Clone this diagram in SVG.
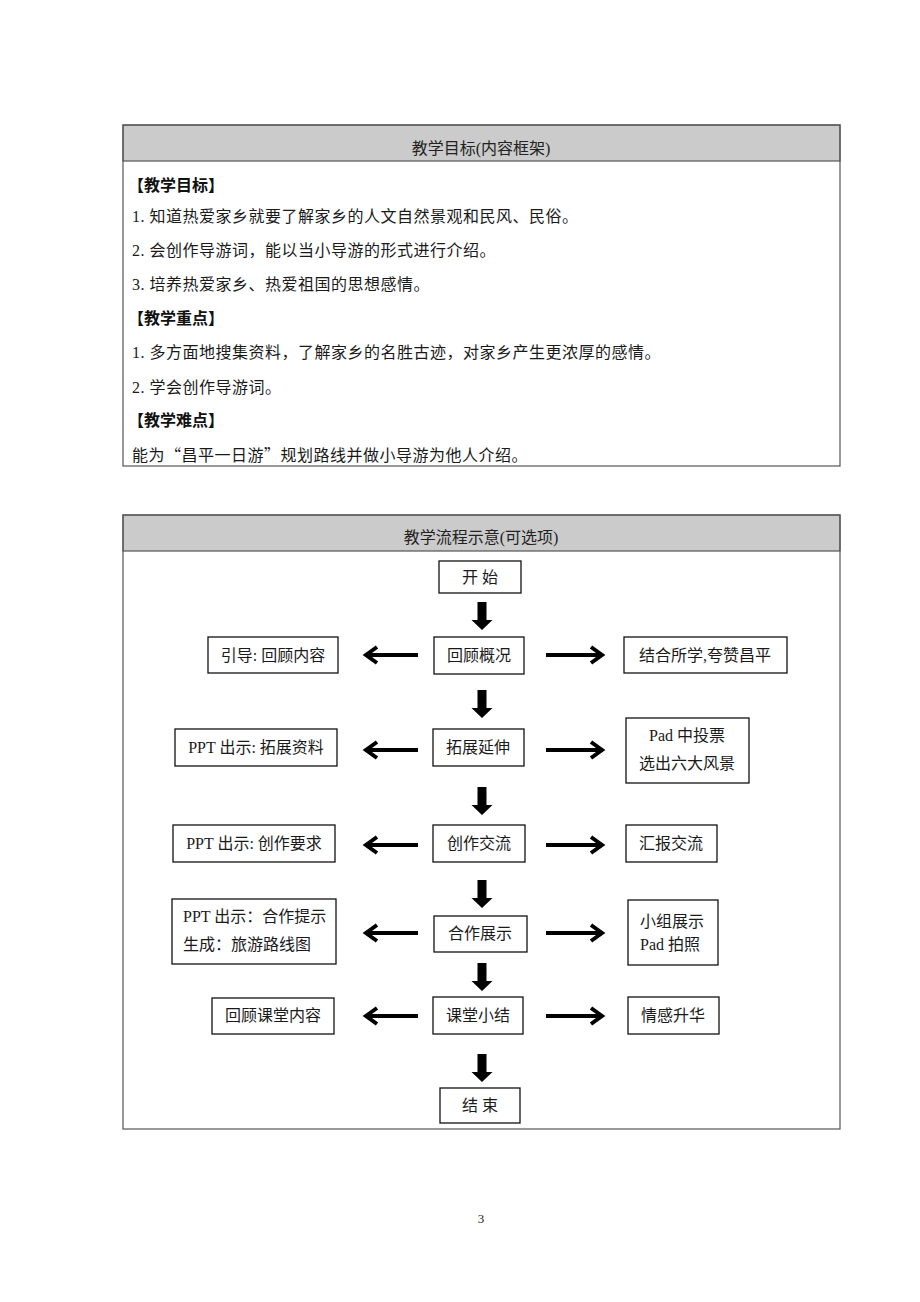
<svg xmlns="http://www.w3.org/2000/svg" xmlns:xlink="http://www.w3.org/1999/xlink" width="920" height="1302" viewBox="0 0 920 1302">
<style>
.t{font-family:"Liberation Serif","Noto Sans CJK SC",serif;font-size:16px;fill:#1a1a1a}
.p{letter-spacing:0.5px}
.h{font-family:"Liberation Serif","Noto Sans CJK SC",serif;font-size:16px;fill:#222;text-anchor:middle}
.b{font-family:"Liberation Sans","Noto Sans CJK SC",sans-serif;font-size:16px;font-weight:bold;fill:#111}
.q{font-family:"Noto Sans CJK SC",sans-serif}
.c{text-anchor:middle}
.tbl{fill:none;stroke:#555;stroke-width:1.2}
.hdr{fill:#cbcbcb;stroke:#555;stroke-width:1.2}
.box{fill:#fff;stroke:#111;stroke-width:1.3}
.ha{fill:none;stroke:#000;stroke-width:4;stroke-linejoin:miter}
</style>
<defs>
<path id="darr" d="M-4.5,0 H4.5 V18 H10.5 L0,28 L-10.5,18 H-4.5 Z" fill="#000"/>
</defs>
<rect width="920" height="1302" fill="#fff"/>

<g id="table1">
<rect class="hdr" x="123" y="125" width="717" height="36"/>
<rect class="tbl" x="123" y="125" width="717" height="341"/>
<text class="h" x="481" y="154">教学目标(内容框架)</text>
<text class="b" x="128" y="191">【教学目标】</text>
<text class="t p" x="132" y="222">1. 知道热爱家乡就要了解家乡的人文自然景观和民风、民俗。</text>
<text class="t p" x="132" y="256">2. 会创作导游词，能以当小导游的形式进行介绍。</text>
<text class="t p" x="132" y="290">3. 培养热爱家乡、热爱祖国的思想感情。</text>
<text class="b" x="128" y="324">【教学重点】</text>
<text class="t p" x="132" y="358">1. 多方面地搜集资料，了解家乡的名胜古迹，对家乡产生更浓厚的感情。</text>
<text class="t p" x="132" y="393">2. 学会创作导游词。</text>
<text class="b" x="128" y="426">【教学难点】</text>
<text class="t p" x="132" y="461">能为<tspan class="q">“</tspan>昌平一日游<tspan class="q">”</tspan>规划路线并做小导游为他人介绍。</text>
</g>

<g id="table2">
<rect class="hdr" x="123" y="515" width="717" height="36"/>
<rect class="tbl" x="123" y="515" width="717" height="614"/>
<text class="h" x="481" y="543">教学流程示意(可选项)</text>
</g>

<g id="n-start"><rect class="box" x="439" y="561" width="82" height="32"/><text class="t c" x="480" y="583">开 始</text></g>
<g id="n-review"><rect class="box" x="434" y="637" width="90" height="37"/><text class="t c" x="479" y="661">回顾概况</text></g>
<g id="n-guide"><rect class="box" x="208" y="637" width="130" height="36"/><text class="t c" x="273" y="661">引导: 回顾内容</text></g>
<g id="n-praise"><rect class="box" x="624" y="637" width="163" height="36"/><text class="t c" x="705" y="661">结合所学,夸赞昌平</text></g>

<g id="n-extend"><rect class="box" x="433" y="729" width="91" height="37"/><text class="t c" x="478" y="753">拓展延伸</text></g>
<g id="n-ppt1"><rect class="box" x="175" y="729" width="162" height="37"/><text class="t c" x="256" y="753">PPT 出示: 拓展资料</text></g>
<g id="n-pad1"><rect class="box" x="626" y="718" width="123" height="65"/><text class="t c" x="687" y="741">Pad 中投票</text><text class="t c" x="687" y="769">选出六大风景</text></g>

<g id="n-create"><rect class="box" x="433" y="825" width="92" height="37"/><text class="t c" x="479" y="849">创作交流</text></g>
<g id="n-ppt2"><rect class="box" x="173" y="825" width="162" height="37"/><text class="t c" x="254" y="849">PPT 出示: 创作要求</text></g>
<g id="n-report"><rect class="box" x="626" y="825" width="91" height="37"/><text class="t c" x="671" y="849">汇报交流</text></g>

<g id="n-coop"><rect class="box" x="434" y="916" width="93" height="36"/><text class="t c" x="480" y="939">合作展示</text></g>
<g id="n-ppt3"><rect class="box" x="172" y="899" width="164" height="65"/><text class="t" x="183" y="922">PPT 出示：合作提示</text><text class="t" x="183" y="950">生成：旅游路线图</text></g>
<g id="n-group"><rect class="box" x="628" y="900" width="90" height="65"/><text class="t" x="640" y="927">小组展示</text><text class="t" x="640" y="950">Pad 拍照</text></g>

<g id="n-summary"><rect class="box" x="433" y="997" width="90" height="37"/><text class="t c" x="478" y="1021">课堂小结</text></g>
<g id="n-recall"><rect class="box" x="212" y="998" width="122" height="36"/><text class="t c" x="273" y="1021">回顾课堂内容</text></g>
<g id="n-emotion"><rect class="box" x="628" y="997" width="91" height="37"/><text class="t c" x="673" y="1021">情感升华</text></g>

<g id="n-end"><rect class="box" x="440" y="1088" width="80" height="35"/><text class="t c" x="480" y="1111">结 束</text></g>

<g id="connectors">
<use xlink:href="#darr" x="482" y="602"/>
<use xlink:href="#darr" x="482" y="690"/>
<use xlink:href="#darr" x="482" y="787"/>
<use xlink:href="#darr" x="482" y="880"/>
<use xlink:href="#darr" x="482" y="963"/>
<use xlink:href="#darr" x="482" y="1054"/>

<path class="ha" d="M418,655 H366 M377,647 L366,655 L377,663"/>
<path class="ha" d="M546,655 H602 M591,647 L602,655 L591,663"/>
<path class="ha" d="M418,750 H366 M377,742 L366,750 L377,758"/>
<path class="ha" d="M546,750 H602 M591,742 L602,750 L591,758"/>
<path class="ha" d="M418,845 H366 M377,837 L366,845 L377,853"/>
<path class="ha" d="M546,845 H602 M591,837 L602,845 L591,853"/>
<path class="ha" d="M418,933 H366 M377,925 L366,933 L377,941"/>
<path class="ha" d="M546,933 H602 M591,925 L602,933 L591,941"/>
<path class="ha" d="M418,1016 H366 M377,1008 L366,1016 L377,1024"/>
<path class="ha" d="M546,1016 H602 M591,1008 L602,1016 L591,1024"/>
</g>

<text class="t c" x="481" y="1223" style="font-size:13px">3</text>
</svg>
